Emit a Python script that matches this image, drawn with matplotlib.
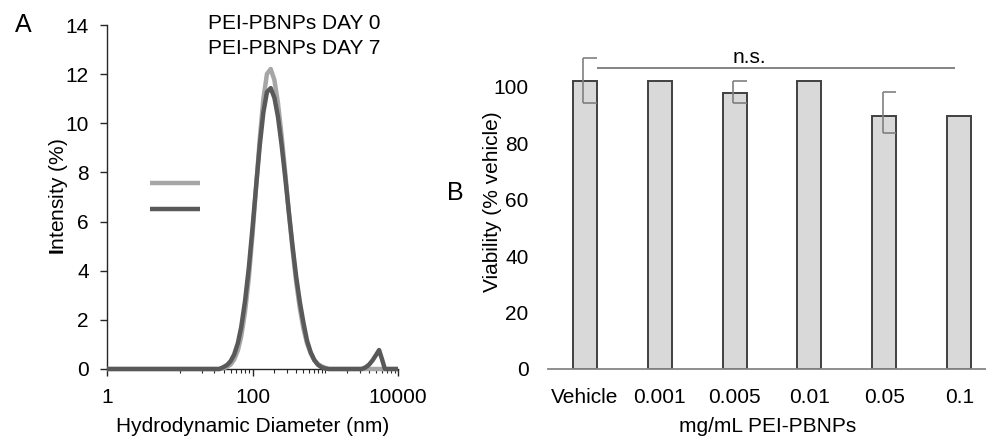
import matplotlib
matplotlib.use("Agg")
import matplotlib.pyplot as plt
from matplotlib.ticker import FixedLocator, NullFormatter
import numpy as np

plt.rcParams['font.family'] = ['Liberation Sans', 'DejaVu Sans']
plt.rcParams['mathtext.fontset'] = 'custom'
plt.rcParams['mathtext.rm'] = 'Liberation Sans'
plt.rcParams['mathtext.bf'] = 'Liberation Sans:bold'

# ---------------- Panel A data (DLS size distribution) ----------------
diam_day0 = [1, 35, 40, 45, 50, 56, 63, 70, 79, 89,
             100, 112, 126, 141, 158, 178, 200, 224, 251, 282,
             316, 355, 398, 447, 501, 562, 631, 708, 794, 891,
             1000, 1122, 10000]
int_day0 = [0, 0, 0.03, 0.09, 0.18, 0.38, 0.76, 1.33, 2.33, 3.70,
            5.46, 7.39, 9.38, 10.99, 12.01, 12.21, 11.76, 10.82, 9.51, 7.97,
            6.38, 4.87, 3.55, 2.47, 1.64, 1.04, 0.63, 0.36, 0.20, 0.11,
            0.05, 0, 0]

diam_day7 = [1, 35, 40, 45, 50, 56, 63, 70, 79, 89,
             100, 112, 126, 141, 158, 178, 200, 224, 251, 282,
             316, 355, 398, 447, 501, 562, 631, 708, 794, 891,
             1000, 1122, 2818, 3162, 3548, 3981, 4467, 5012, 5495, 6026,
             6607, 10000]
int_day7 = [0, 0, 0.08, 0.17, 0.32, 0.59, 1.06, 1.71, 2.77, 4.12,
            5.74, 7.43, 9.12, 10.44, 11.27, 11.43, 11.04, 10.26, 9.13, 7.79,
            6.38, 5.01, 3.77, 2.73, 1.89, 1.15, 0.68, 0.36, 0.17, 0.07,
            0.02, 0, 0, 0, 0.06, 0.17, 0.35, 0.58, 0.77, 0.40,
            0, 0]

series_labels = ["PEI-PBNPs DAY 0", "PEI-PBNPs DAY 7"]
x_major = [1, 100, 10000]
x_major_labels = ["1", "100", "10000"]
y_ticks_a = [0, 2, 4, 6, 8, 10, 12, 14]

# ---------------- Panel B data (viability) ----------------
categories = ["Vehicle", "0.001", "0.005", "0.01", "0.05", "0.1"]
viability = [102.2, 102.2, 97.7, 102.2, 89.8, 89.8]
err_low = [94.3, np.nan, 94.3, np.nan, 83.6, np.nan]
err_high = [110.2, np.nan, 102.2, np.nan, 98.1, np.nan]
ns_level = 106.7
y_ticks_b = [0, 20, 40, 60, 80, 100]

c_light = '#a6a6a6'
c_dark = '#595959'
FS = 15

fig = plt.figure(figsize=(9.87, 4.38), dpi=100)

# ---------------- Panel A ----------------
ax1 = fig.add_axes([107/987, 69/438, 291/987, 344/438])
ax1.plot(diam_day0, int_day0, color=c_light, lw=3.2, clip_on=False,
         solid_capstyle='butt', zorder=3)
ax1.plot(diam_day7, int_day7, color=c_dark, lw=3.2, clip_on=False,
         solid_capstyle='butt', zorder=4)
ax1.set_xscale('log')
ax1.set_xlim(1, 10000)
ax1.set_ylim(0, 14)
ax1.xaxis.set_major_locator(FixedLocator(x_major))
ax1.set_xticklabels(x_major_labels)
minor = [k * 10**e for e in (1, 2, 3) for k in range(1, 10) if not (k == 1 and e == 2)]
ax1.xaxis.set_minor_locator(FixedLocator(minor))
ax1.xaxis.set_minor_formatter(NullFormatter())
ax1.set_yticks(y_ticks_a)
for s in ['top', 'right']:
    ax1.spines[s].set_visible(False)
for s in ['left', 'bottom']:
    ax1.spines[s].set_color('#262626')
    ax1.spines[s].set_linewidth(1.0)
ax1.tick_params(axis='y', which='major', direction='out', length=5, width=1,
                color='#262626', pad=8, labelsize=FS)
ax1.tick_params(axis='x', which='major', direction='out', length=5, width=1,
                color='#262626', pad=9, labelsize=FS)
ax1.tick_params(axis='x', which='minor', direction='out', length=3, width=0.8,
                color='#262626')
ax1.set_xlabel("Hydrodynamic Diameter (nm)", fontsize=FS)
ax1.xaxis.set_label_coords(0.5, -0.139)
ax1.set_ylabel(r"$\mathbf{I}$ntensity (%)", fontsize=FS)
ax1.yaxis.set_label_coords(-0.127, 0.5)

# broken legend as in reference
ax1.text(0.644, 1.003, series_labels[0], transform=ax1.transAxes, ha='center',
         va='center', fontsize=FS)
ax1.text(0.644, 0.933, series_labels[1], transform=ax1.transAxes, ha='center',
         va='center', fontsize=FS)
ax1.plot([0.148, 0.32], [0.541, 0.541], transform=ax1.transAxes, color=c_light,
         lw=3.2, solid_capstyle='butt', clip_on=False)
ax1.plot([0.148, 0.32], [0.465, 0.465], transform=ax1.transAxes, color=c_dark,
         lw=3.2, solid_capstyle='butt', clip_on=False)

fig.text(23/987, 1 - 25/438, "A", fontsize=18, ha='center', va='center')

# ---------------- Panel B ----------------
ax2 = fig.add_axes([548/987, 69/438, (987-548)/987, 338.4/438])
x = np.arange(len(categories))
bw = 0.32
ax2.bar(x, viability, width=bw, color='#d9d9d9', edgecolor='#404040',
        linewidth=1.4, zorder=2)
whisk_x = x - 0.025
ax2.vlines(whisk_x, err_low, err_high, color='#808080', lw=1.2, zorder=3)
ax2.hlines(err_low, whisk_x, x + bw/2, color='#808080', lw=1.2, zorder=3)
ax2.hlines(err_high, whisk_x, x + bw/2, color='#808080', lw=1.2, zorder=3)
ax2.hlines(ns_level, x[0] + bw/2, x[-1] - 0.06, color='#7a7a7a', lw=1.3, zorder=3)
ax2.text(2.2, ns_level + 0.3, "n.s.", ha='center', va='bottom', fontsize=FS)
ax2.set_xlim(-0.487, 5.367)
ax2.set_ylim(0, 120)
ax2.set_xticks(x)
ax2.set_xticklabels(categories)
ax2.set_yticks(y_ticks_b)
for s in ['top', 'right', 'left']:
    ax2.spines[s].set_visible(False)
ax2.spines['bottom'].set_color('#868686')
ax2.spines['bottom'].set_linewidth(1.3)
ax2.tick_params(axis='both', length=0, labelsize=FS)
ax2.tick_params(axis='y', pad=14)
ax2.tick_params(axis='x', pad=14)
ax2.set_xlabel("mg/mL PEI-PBNPs", fontsize=FS)
ax2.xaxis.set_label_coords(0.5, -0.143)
ax2.set_ylabel("Viability (% vehicle)", fontsize=FS)
ax2.yaxis.set_label_coords(-0.105, 0.4935)

fig.text(455/987, 1 - 193/438, "B", fontsize=18, ha='center', va='center')

fig.savefig("out.png", dpi=100)
